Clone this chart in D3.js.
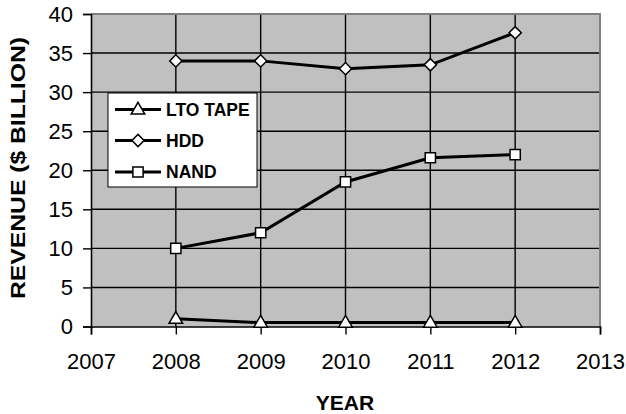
<!DOCTYPE html>
<html>
<head>
<meta charset="utf-8">
<script src="https://cdn.jsdelivr.net/npm/d3@7"></script>
<style>
  html, body { margin: 0; padding: 0; background: #ffffff; }
  svg { display: block; font-family: "Liberation Sans", Arial, sans-serif; }
</style>
</head>
<body>
<svg id="chart" width="626" height="414"></svg>
<script>
const years = [2008, 2009, 2010, 2011, 2012];
const xTicks = [2007, 2008, 2009, 2010, 2011, 2012, 2013];
const yTicks = [0, 5, 10, 15, 20, 25, 30, 35, 40];
const seriesNames = ["LTO TAPE", "HDD", "NAND"];
const ltoValues = [1.0, 0.5, 0.5, 0.5, 0.5];
const hddValues = [34.0, 34.0, 33.0, 33.5, 37.6];
const nandValues = [10.0, 12.0, 18.5, 21.6, 22.0];

const svg = d3.select("#chart");
const L = 91, R = 600, T = 14, B = 326.5;

const x = d3.scaleLinear().domain([2007, 2013]).range([L, R]);
const y = d3.scaleLinear().domain([0, 40]).range([B, T]);

// plot background
svg.append("rect").attr("x", L).attr("y", T).attr("width", R - L).attr("height", B - T)
  .attr("fill", "#c0c0c0");

// gridlines
const g = svg.append("g");
g.selectAll("line.hg").data(yTicks.filter(d => d > 0 && d < 40)).join("line")
  .attr("x1", L).attr("x2", R).attr("y1", d => y(d)).attr("y2", d => y(d))
  .attr("stroke", "#000").attr("stroke-width", 1.4);
g.selectAll("line.vg").data(xTicks.filter(d => d > 2007 && d < 2013)).join("line")
  .attr("y1", T).attr("y2", B).attr("x1", d => x(d)).attr("x2", d => x(d))
  .attr("stroke", "#000").attr("stroke-width", 1.4);

// frame top/right gray
svg.append("path").attr("d", `M${L},${T}H${R}V${B}`).attr("fill", "none")
  .attr("stroke", "#808080").attr("stroke-width", 2);

// axes
const yAxis = d3.axisLeft(y).tickValues(yTicks).tickSize(8).tickPadding(10).tickFormat(d3.format("d"));
const yg = svg.append("g").attr("transform", `translate(${L},0)`).call(yAxis);
const xAxis = d3.axisBottom(x).tickValues(xTicks).tickSize(8).tickPadding(19).tickFormat(d3.format("d"));
const xg = svg.append("g").attr("transform", `translate(0,${B})`).call(xAxis);
[yg, xg].forEach(a => {
  a.select(".domain").attr("stroke", "#000").attr("stroke-width", 1.6);
  a.selectAll(".tick line").attr("stroke", "#000").attr("stroke-width", 1.4);
  a.selectAll(".tick text").attr("fill", "#000").style("font-size", "22px")
    .style("font-family", "'Liberation Sans', Arial, sans-serif");
});
xg.selectAll(".tick text").attr("dy", "0.71em");

// symbols
const sym = {
  "LTO TAPE": d3.symbol().type(d3.symbolTriangle).size(80),
  "HDD": d3.symbol().type(d3.symbolSquare).size(75),
  "NAND": d3.symbol().type(d3.symbolSquare).size(105)
};
const rot = { "LTO TAPE": 0, "HDD": 45, "NAND": 0 };
const symOffset = { "LTO TAPE": 0.7, "HDD": 0, "NAND": 0 };

const series = [
  { name: "LTO TAPE", values: ltoValues },
  { name: "HDD", values: hddValues },
  { name: "NAND", values: nandValues }
];

const line = d3.line().x(d => x(d[0])).y(d => y(d[1]));
series.forEach(s => {
  const pts = years.map((yr, i) => [yr, s.values[i]]);
  svg.append("path").attr("d", line(pts)).attr("fill", "none")
    .attr("stroke", "#000").attr("stroke-width", 3);
  svg.append("g").selectAll("path").data(pts).join("path")
    .attr("d", sym[s.name]())
    .attr("transform", d => `translate(${x(d[0])},${y(d[1]) + symOffset[s.name]}) rotate(${rot[s.name]})`)
    .attr("fill", "#fff").attr("stroke", "#000").attr("stroke-width", 1.5);
});

// legend
const lg = svg.append("g");
lg.append("rect").attr("x", 108).attr("y", 93).attr("width", 149).attr("height", 94)
  .attr("fill", "#fff").attr("stroke", "#000").attr("stroke-width", 1);
const rowY = [109.5, 140.5, 172];
seriesNames.forEach((n, i) => {
  lg.append("line").attr("x1", 115).attr("x2", 161).attr("y1", rowY[i]).attr("y2", rowY[i])
    .attr("stroke", "#000").attr("stroke-width", 3);
  lg.append("path").attr("d", sym[n]())
    .attr("transform", `translate(138,${rowY[i] + symOffset[n]}) rotate(${rot[n]})`)
    .attr("fill", "#fff").attr("stroke", "#000").attr("stroke-width", 1.5);
  lg.append("text").attr("x", 166).attr("y", rowY[i]).attr("dy", "0.36em")
    .style("font-size", "17.5px").style("font-weight", "bold").text(n);
});

// axis titles
svg.append("text").attr("x", 345).attr("y", 410).attr("text-anchor", "middle")
  .style("font-size", "21px").style("font-weight", "bold").text("YEAR");
svg.append("text").attr("transform", "translate(25,168) rotate(-90)").attr("text-anchor", "middle")
  .attr("textLength", 262).attr("lengthAdjust", "spacingAndGlyphs")
  .style("font-size", "21px").style("font-weight", "bold").text("REVENUE ($ BILLION)");
</script>
</body>
</html>
